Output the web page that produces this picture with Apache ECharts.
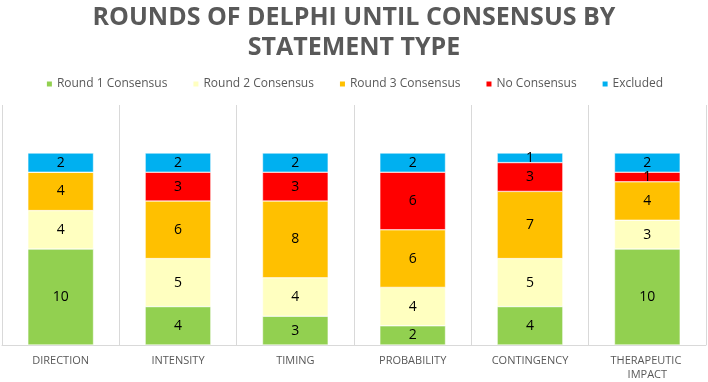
<!DOCTYPE html>
<html><head><meta charset="utf-8">
<script src="https://cdn.jsdelivr.net/npm/echarts@6/dist/echarts.min.js"></script>
<style>html,body{margin:0;padding:0;background:#fff}#c{width:708px;height:382px}</style>
</head><body><div id="c"></div>
<script>
const categories = ['DIRECTION','INTENSITY','TIMING','PROBABILITY','CONTINGENCY','THERAPEUTIC IMPACT'];
const seriesNames = ['Round 1 Consensus','Round 2 Consensus','Round 3 Consensus','No Consensus','Excluded'];
const round1 = [10, 4, 3, 2, 4, 10];
const round2 = [4, 5, 4, 4, 5, 3];
const round3 = [4, 6, 8, 6, 7, 4];
const noConsensus = [0, 3, 3, 6, 3, 1];
const excluded = [2, 2, 2, 2, 1, 2];
const colors = ['#92D050','#FFFFC0','#FFC000','#FF0000','#00B0F0'];
const values = [round1, round2, round3, noConsensus, excluded];

const chart = echarts.init(document.getElementById('c'));
chart.setOption({
  animation: false,
  title: {
    text: 'ROUNDS OF DELPHI UNTIL CONSENSUS BY\nSTATEMENT TYPE',
    left: 'center', top: -2,
    textStyle: {fontFamily: 'Open Sans', fontWeight: 'bold', fontSize: 25, color: '#595959', lineHeight: 30}
  },
  legend: {
    left: 'center', top: 73,
    itemWidth: 7, itemHeight: 7, itemGap: 24,
    icon: 'rect',
    textStyle: {fontFamily: 'Open Sans', fontSize: 12, color: '#595959', padding: [0,0,0,-1]},
    data: seriesNames
  },
  grid: {left: 2, right: 2, top: 105, bottom: 35},
  xAxis: {
    type: 'category', data: categories,
    axisLine: {lineStyle: {color: '#D9D9D9'}},
    axisTick: {show: false},
    splitLine: {show: true, lineStyle: {color: '#D9D9D9'}},
    axisLabel: {fontFamily: 'Open Sans', fontSize: 11, color: '#595959', margin: 9, width: 100, overflow: 'break', lineHeight: 14, interval: 0}
  },
  yAxis: {type: 'value', min: 0, max: 25, show: false, splitLine: {show: false}},
  series: seriesNames.map((n, i) => ({
    name: n, type: 'bar', stack: 'all', data: values[i],
    barWidth: '56%',
    itemStyle: {color: colors[i], borderColor: '#fff', borderWidth: 0.5},
    label: {show: true, position: 'inside', fontFamily: 'Open Sans', fontSize: 14, color: '#000',
      formatter: p => p.value ? String(p.value) : ''}
  }))
});
</script></body></html>
